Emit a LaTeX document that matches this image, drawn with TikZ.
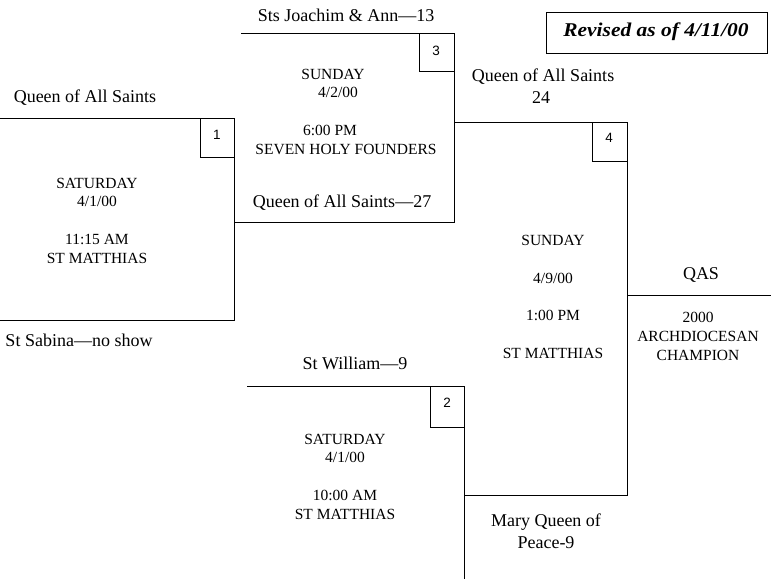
\documentclass[tikz,border=0pt]{standalone}
\usepackage{fontspec}
\usepackage{graphicx}
\setmainfont{Liberation Serif}
\newfontfamily\numfont{Liberation Sans}
\begin{document}
\begin{tikzpicture}[x=1pt,y=-1pt,line width=1pt,
  team/.style={anchor=base,inner sep=0pt,font=\fontsize{18}{21}\selectfont},
  info/.style={anchor=base,inner sep=0pt,align=center,font=\fontsize{15.5}{18.7}\selectfont},
  wide/.style={anchor=base,inner sep=0pt,align=center,font=\fontsize{15.5}{37.4}\selectfont},
  num/.style={anchor=base,inner sep=0pt,font=\numfont\fontsize{13.5}{15}\selectfont},
  numbox/.style={draw,line width=1pt}]
\useasboundingbox (0,0) rectangle (771,579);
% bracket 1
\draw (0,118) -- (234,118) -- (234,320) -- (0,320);
\draw[numbox] (200,118) rectangle (234,157);
% bracket 3
\draw (241,33) -- (454,33) -- (454,222) -- (234,222);
\draw[numbox] (419,33) rectangle (454,71);
% bracket 4
\draw (454,122) -- (627,122) -- (627,495) -- (464,495);
\draw[numbox] (592,122) rectangle (627,161);
% bracket 2
\draw (247,386) -- (464,386) -- (464,579);
\draw[numbox] (430,386) rectangle (464,427);
% final line
\draw (627,295) -- (771,295);
% revised box
\draw (546,12) rectangle (767,53);
\node[anchor=base,inner sep=0pt,font=\fontsize{19.5}{22}\selectfont\bfseries\itshape] (rev) at (656,36) {\scalebox{1.1}[1]{Revised as of 4/11/00}};
% numbers
\node[num] (n1) at (217,139) {1};
\node[num] (n3) at (436,55) {3};
\node[num] (n4) at (609,142) {4};
\node[num] (n2) at (447,407) {2};
% team labels
\node[team] (t1) at (85,102) {Queen of All Saints};
\node[team] (t2) at (79,346) {St Sabina---no show};
\node[team] (t3) at (346,21) {Sts Joachim \& Ann---13};
\node[team] (t4) at (342,207) {Queen of All Saints---27};
\node[team] (t5) at (543,81) {Queen of All Saints};
\node[team] (t6) at (541,103) {24};
\node[team] (t7) at (355,369) {St William---9};
\node[team] (t8) at (546,526) {Mary Queen of};
\node[team] (t9) at (546,548) {Peace-9};
\node[team] (t10) at (701,279) {QAS};
% game info (base anchor = last line baseline)
\node[info] (g1) at (97,263) {SATURDAY\\4/1/00\\[18.7pt]11:15 AM\\ST MATTHIAS};
\node[info] (g3) at (346,154) {\hspace*{-26pt}SUNDAY\\\hspace*{-16pt}4/2/00\\[18.7pt]\hspace*{-32pt}6:00 PM\\SEVEN HOLY FOUNDERS};
\node[info] (g2) at (345,519) {SATURDAY\\4/1/00\\[18.7pt]10:00 AM\\ST MATTHIAS};
\node[wide] (g4) at (553,358) {SUNDAY\\4/9/00\\1:00 PM\\ST MATTHIAS};
\node[info] (ch) at (698,360) {2000\\ARCHDIOCESAN\\CHAMPION};
\end{tikzpicture}
\end{document}
